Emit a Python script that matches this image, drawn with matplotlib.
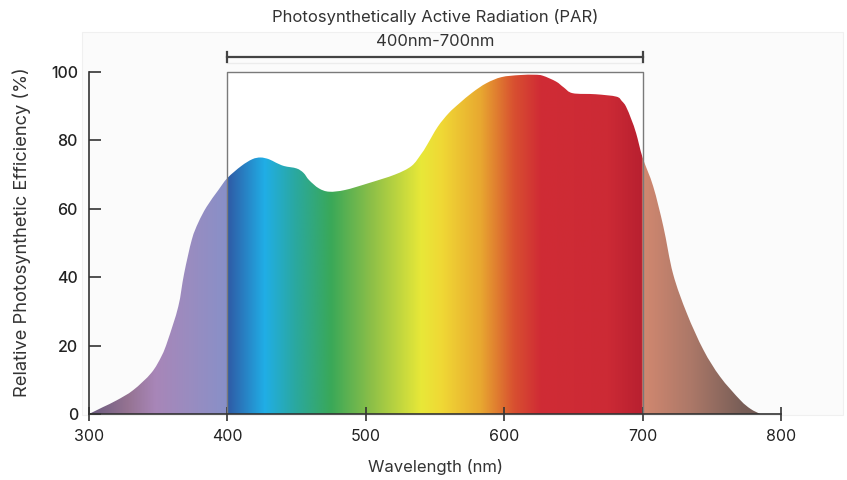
import matplotlib
matplotlib.use('Agg')
import matplotlib.pyplot as plt
import numpy as np
from matplotlib.patches import PathPatch, Rectangle
from matplotlib.path import Path
from matplotlib.colors import to_rgb

plt.rcParams['font.family'] = ['Inter', 'DejaVu Sans']

# curve (nm, relative efficiency %)
wavelength = [300, 310, 320, 332, 345, 352.5, 357, 364.5, 368.7, 374.3, 379, 385, 393.5,
              400, 410, 418, 424, 430, 435, 441, 450, 455, 459, 466, 473.5, 485, 502,
              521, 533, 540, 544, 552, 560, 567.5, 577, 587, 598, 611, 622, 628, 637.5,
              643, 649.5, 666, 681, 685, 688, 692, 695.4, 700, 707.7, 715, 722, 732,
              744, 756, 770.5, 778, 785]
efficiency = [0, 2, 4, 7, 12, 17, 21.6, 31.4, 41, 51, 56, 60.6, 65.5,
              69, 72.5, 74.5, 75, 74.5, 73.5, 72.5, 71.8, 70.5, 68.4, 66, 65, 65.5, 67.5,
              70, 72.5, 76, 78.5, 84, 88, 90.8, 94, 96.7, 98.5, 99.1, 99.2, 98.9, 97.2,
              95.5, 93.8, 93.5, 92.8, 91.5, 89.9, 86, 82, 75, 66.5, 54.8, 41, 29.4,
              18.7, 10.9, 4.1, 1.5, 0]

# spectrum colour stops
stop_nm = [300, 328, 348, 372, 399.6, 400, 427, 449, 475, 504, 540, 555, 583, 607,
           626, 675, 699.6, 700, 735, 771, 800]
stop_col = ['#6a5a7e', '#957392', '#a886b8', '#9a8cc0', '#8890c8', '#2f5aa5', '#20aee6',
            '#2aa8a0', '#3aa858', '#8cbf48', '#e8e838', '#f0d835', '#e8a830', '#d85030',
            '#d02c35', '#cc2a35', '#b82030', '#d28870', '#ac7868', '#7a5f58', '#6a5550']

xticks = [300, 400, 500, 600, 700, 800]
yticks = [0, 20, 40, 60, 80, 100]


def smooth_path(x, y):
    # cubic bezier through the points (catmull-rom style handles), closed on the baseline
    p = np.column_stack([x, y]).astype(float)
    n = len(p)
    verts = [p[0]]
    codes = [Path.MOVETO]
    for i in range(n - 1):
        p0 = p[i - 1] if i > 0 else p[i]
        p3 = p[i + 2] if i + 2 < n else p[i + 1]
        c1 = p[i] + (p[i + 1] - p0) / 6.0
        c2 = p[i + 1] - (p3 - p[i]) / 6.0
        verts += [c1, c2, p[i + 1]]
        codes += [Path.CURVE4] * 3
    verts += [p[0], p[0]]
    codes += [Path.LINETO, Path.CLOSEPOLY]
    return Path(verts, codes)


W, H = 847, 480
fig = plt.figure(figsize=(W / 100, H / 100), dpi=100)

# light panel behind the plot
fig.patches.append(Rectangle((82 / W, 1 - 415 / H), (843 - 82) / W, (415 - 32) / H,
                             transform=fig.transFigure, facecolor='#fbfbfb',
                             edgecolor='#f0f0f0', lw=0.8, zorder=-1))

ax = fig.add_axes([89 / W, 66 / H, (781 - 89) / W, (414 - 72) / H])
ax.set_zorder(1)
ax.set_facecolor('none')

# white inside the PAR box
ax.add_patch(Rectangle((400, 0), 300, 100, facecolor='white', edgecolor='none', zorder=0))

# gradient fill clipped to the curve
xs = np.linspace(300, 800, 2000)
rgb = np.array([to_rgb(c) for c in stop_col])
grad = np.stack([np.interp(xs, stop_nm, rgb[:, i]) for i in range(3)], axis=-1)[None, :, :]
im = ax.imshow(grad, extent=[300, 800, 0, 100], aspect='auto', origin='lower', zorder=1,
               interpolation='bilinear')
clip = PathPatch(smooth_path(wavelength, efficiency), facecolor='none', edgecolor='none')
ax.add_patch(clip)
im.set_clip_path(clip)

# PAR box
ax.plot([400, 400, 700, 700], [0, 100, 100, 0], color='#7a7a7a', lw=1.0, zorder=3,
        clip_on=False)
ax.plot([400, 700], [102.6, 102.6], color='#ececec', lw=1.0, clip_on=False)

# bracket
ax.plot([400, 700], [104.4, 104.4], color='#444444', lw=1.6, clip_on=False)
ax.plot([400, 400], [102.9, 105.9], color='#444444', lw=1.6, clip_on=False)
ax.plot([700, 700], [102.9, 105.9], color='#444444', lw=1.6, clip_on=False)
ax.text(550, 116, 'Photosynthetically Active Radiation (PAR)', ha='center', va='center',
        fontsize=12, color='#333333')
ax.text(550, 109.0, '400nm-700nm', ha='center', va='center', fontsize=12,
        color='#333333')

ax.set_xlim(300, 800)
ax.set_ylim(0, 100)
ax.set_xticks(xticks)
ax.set_yticks(yticks)

for s in ['top', 'right']:
    ax.spines[s].set_visible(False)
for s in ['left', 'bottom']:
    ax.spines[s].set_color('#333333')
    ax.spines[s].set_linewidth(1.2)
    ax.spines[s].set_zorder(4)

ax.tick_params(axis='y', direction='in', length=8.5, width=1.2, color='#333333',
               labelsize=11.5, labelcolor='#222222', pad=8)
ax.tick_params(axis='x', direction='inout', length=10, width=1.2, color='#333333',
               labelsize=11.5, labelcolor='#222222', pad=6)
for t in ax.get_yticklabels():
    t.set_fontweight('medium')

fig.text(435 / W, 1 - 467 / H, 'Wavelength (nm)', ha='center', va='center',
         fontsize=12, color='#333333')
fig.text(22 / W, 1 - 232 / H, 'Relative Photosynthetic Efficiency (%)', ha='center',
         va='center', rotation=90, fontsize=13.2, color='#333333')

fig.savefig('out.png', dpi=100)
